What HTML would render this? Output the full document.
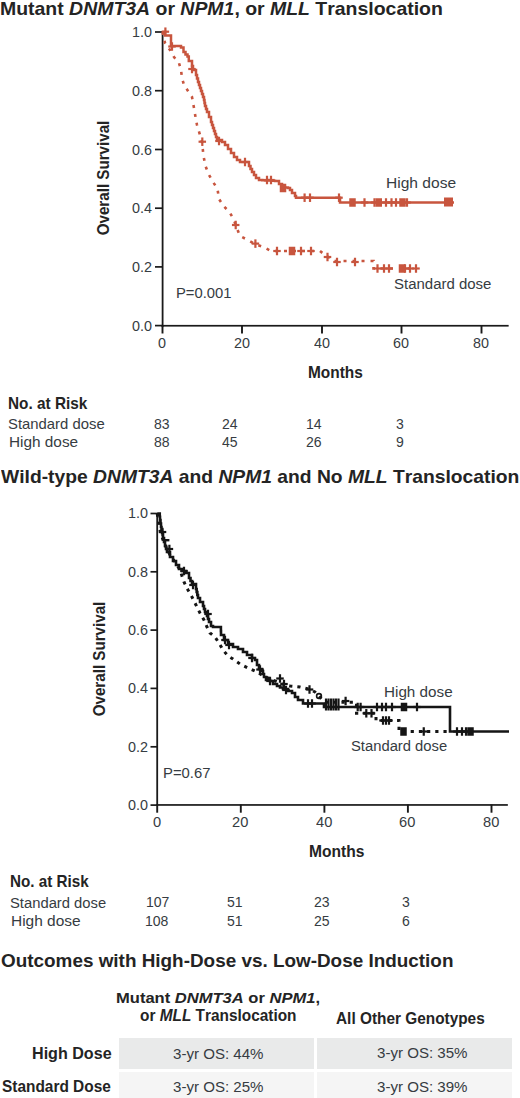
<!DOCTYPE html>
<html><head><meta charset="utf-8"><title>Figure</title>
<style>
html,body{margin:0;padding:0;background:#fff;}
body{width:520px;height:1098px;position:relative;overflow:hidden;font-family:"Liberation Sans",sans-serif;font-kerning:none;}
.t{position:absolute;white-space:nowrap;transform-origin:0 0;color:#363c42;}
.t i{font-style:italic;}
.r{transform-origin:50% 50%;font-weight:bold;color:#242424;}
.cell{position:absolute;}
svg{position:absolute;left:0;top:0;}
</style></head><body>
<div class="cell" style="left:118.8px;top:1037.7px;width:195px;height:31.5px;background:#e9eaea"></div>
<div class="cell" style="left:316.5px;top:1037.7px;width:195px;height:31.5px;background:#e9eaea"></div>
<div class="cell" style="left:118.8px;top:1072px;width:195px;height:26px;background:#f5f5f5"></div>
<div class="cell" style="left:316.5px;top:1072px;width:195px;height:26px;background:#f5f5f5"></div>
<svg width="520" height="1098" viewBox="0 0 520 1098" shape-rendering="geometricPrecision"><g fill="#1a1a1a"><rect x="161.70" y="31.50" width="1.8" height="295.60"/><rect x="161.70" y="324.90" width="346.95" height="1.7"/><rect x="155" y="31.15" width="7.60" height="1.7"/><rect x="155" y="89.85" width="7.60" height="1.7"/><rect x="155" y="148.65" width="7.60" height="1.7"/><rect x="155" y="207.35" width="7.60" height="1.7"/><rect x="155" y="266.05" width="7.60" height="1.7"/><rect x="155" y="324.75" width="7.60" height="1.7"/><rect x="161.55" y="325" width="1.9" height="8.5"/><rect x="241.05" y="325" width="1.9" height="8.5"/><rect x="321.05" y="325" width="1.9" height="8.5"/><rect x="400.55" y="325" width="1.9" height="8.5"/><rect x="480.55" y="325" width="1.9" height="8.5"/></g><g fill="#1a1a1a"><rect x="156.30" y="513" width="1.8" height="292.90"/><rect x="156.30" y="804.10" width="351.55" height="1.7"/><rect x="150.5" y="512.65" width="6.70" height="1.7"/><rect x="150.5" y="570.95" width="6.70" height="1.7"/><rect x="150.5" y="629.25" width="6.70" height="1.7"/><rect x="150.5" y="687.55" width="6.70" height="1.7"/><rect x="150.5" y="745.95" width="6.70" height="1.7"/><rect x="150.5" y="804.25" width="6.70" height="1.7"/><rect x="156.25" y="804.5" width="1.9" height="8.2"/><rect x="239.85" y="804.5" width="1.9" height="8.2"/><rect x="323.45" y="804.5" width="1.9" height="8.2"/><rect x="406.95" y="804.5" width="1.9" height="8.2"/><rect x="490.55" y="804.5" width="1.9" height="8.2"/></g><path d="M162.50,32.00 L165.00,32.00 L165.00,35.50 L171.00,35.50 L171.00,46.00 L179.00,46.00 L181.00,46.00 L181.00,47.50 L183.50,47.50 L183.50,52.00 L185.50,52.00 L185.50,54.50 L187.50,54.50 L187.50,56.50 L188.80,56.50 L188.80,61.00 L190.00,61.00 L192.00,61.00 L192.00,66.00 L193.00,66.00 L193.00,70.00 L196.00,70.00 L196.00,75.00 L197.00,75.00 L197.00,78.50 L198.00,78.50 L198.00,82.00 L199.00,82.00 L199.00,85.00 L200.00,85.00 L200.00,88.00 L201.00,88.00 L201.00,91.00 L202.00,91.00 L202.00,94.00 L203.00,94.00 L203.00,97.00 L204.00,97.00 L204.00,100.00 L204.50,100.00 L204.50,103.00 L205.00,103.00 L205.00,106.00 L206.00,106.00 L206.00,109.00 L207.00,109.00 L207.00,112.00 L209.00,112.00 L209.00,117.00 L211.00,117.00 L211.00,122.00 L212.00,122.00 L212.00,125.00 L213.00,125.00 L213.00,128.00 L214.00,128.00 L214.00,131.00 L215.00,131.00 L215.00,134.00 L216.00,134.00 L216.00,137.00 L217.00,137.00 L217.00,140.00 L222.00,140.00 L222.00,142.00 L225.00,142.00 L225.00,145.00 L228.00,145.00 L228.00,149.00 L231.00,149.00 L231.00,153.00 L234.00,153.00 L234.00,157.00 L237.00,157.00 L237.00,160.00 L240.00,160.00 L240.00,162.00 L247.00,162.00 L249.00,162.00 L249.00,166.00 L250.50,166.00 L250.50,169.00 L252.00,169.00 L252.00,172.00 L254.00,172.00 L254.00,175.00 L256.00,175.00 L256.00,178.00 L259.00,178.00 L259.00,180.00 L262.20,180.00 L262.20,180.20 L265.40,180.20 L265.40,180.40 L268.60,180.40 L268.60,180.60 L271.80,180.60 L271.80,180.80 L275.00,180.80 L275.00,181.00 L279.00,181.00 L279.00,184.00 L282.00,184.00 L282.00,187.00 L285.00,187.00 L285.00,187.50 L288.00,187.50 L288.00,188.00 L290.00,188.00 L290.00,190.00 L292.00,190.00 L292.00,193.00 L295.00,193.00 L295.00,196.00 L296.00,196.00 L296.00,197.70 L340.00,197.70 L340.00,202.50 L454.00,202.50" fill="none" stroke="#c8553e" stroke-width="2.5" stroke-linejoin="miter"/><path d="M162.50,32.00 L164.00,38.00 L165.00,43.00 L170.00,50.00 L174.00,57.00 L179.00,63.00 L181.00,70.00 L182.00,78.00 L184.00,85.00 L188.00,91.00 L192.00,97.00 L194.00,108.00 L195.50,117.00 L197.00,125.00 L200.00,135.00 L202.00,142.00 L203.50,156.00 L205.50,166.00 L208.50,174.00 L212.50,181.00 L217.50,189.00 L219.00,199.00 L223.50,206.00 L229.50,212.00 L234.00,220.00 L236.00,226.00 L240.00,236.00 L248.00,240.00 L255.00,244.00 L263.50,247.00 L271.00,251.00 L320.00,251.00 L325.00,255.00 L330.00,258.00 L333.00,261.00 L373.50,261.00 L373.50,268.50 L417.00,268.50" fill="none" stroke="#c8553e" stroke-width="2.6" stroke-dasharray="3 6"/><rect x="164.30" y="27.45" width="2.20" height="8.50" fill="#c8553e"/><rect x="161.65" y="30.60" width="7.50" height="2.20" fill="#c8553e"/><rect x="170.90" y="42.25" width="2.20" height="8.50" fill="#c8553e"/><rect x="168.25" y="45.40" width="7.50" height="2.20" fill="#c8553e"/><rect x="190.90" y="64.75" width="2.20" height="8.50" fill="#c8553e"/><rect x="188.25" y="67.90" width="7.50" height="2.20" fill="#c8553e"/><rect x="217.90" y="136.75" width="2.20" height="8.50" fill="#c8553e"/><rect x="215.25" y="139.90" width="7.50" height="2.20" fill="#c8553e"/><rect x="243.90" y="157.75" width="2.20" height="8.50" fill="#c8553e"/><rect x="241.25" y="160.90" width="7.50" height="2.20" fill="#c8553e"/><rect x="265.90" y="175.75" width="2.20" height="8.50" fill="#c8553e"/><rect x="263.25" y="178.90" width="7.50" height="2.20" fill="#c8553e"/><rect x="269.90" y="175.75" width="2.20" height="8.50" fill="#c8553e"/><rect x="267.25" y="178.90" width="7.50" height="2.20" fill="#c8553e"/><rect x="303.50" y="193.45" width="2.20" height="8.50" fill="#c8553e"/><rect x="300.85" y="196.60" width="7.50" height="2.20" fill="#c8553e"/><rect x="308.90" y="193.45" width="2.20" height="8.50" fill="#c8553e"/><rect x="306.25" y="196.60" width="7.50" height="2.20" fill="#c8553e"/><rect x="337.90" y="193.45" width="2.20" height="8.50" fill="#c8553e"/><rect x="335.25" y="196.60" width="7.50" height="2.20" fill="#c8553e"/><rect x="363.40" y="198.25" width="2.20" height="8.50" fill="#c8553e"/><rect x="360.75" y="201.40" width="7.50" height="2.20" fill="#c8553e"/><rect x="373.40" y="198.25" width="2.20" height="8.50" fill="#c8553e"/><rect x="370.75" y="201.40" width="7.50" height="2.20" fill="#c8553e"/><rect x="384.90" y="198.25" width="2.20" height="8.50" fill="#c8553e"/><rect x="382.25" y="201.40" width="7.50" height="2.20" fill="#c8553e"/><rect x="390.40" y="198.25" width="2.20" height="8.50" fill="#c8553e"/><rect x="387.75" y="201.40" width="7.50" height="2.20" fill="#c8553e"/><rect x="394.90" y="198.25" width="2.20" height="8.50" fill="#c8553e"/><rect x="392.25" y="201.40" width="7.50" height="2.20" fill="#c8553e"/><rect x="405.90" y="198.25" width="2.20" height="8.50" fill="#c8553e"/><rect x="403.25" y="201.40" width="7.50" height="2.20" fill="#c8553e"/><rect x="279.75" y="183.75" width="6.50" height="8.50" fill="#c8553e"/><rect x="349.25" y="198.25" width="6.50" height="8.50" fill="#c8553e"/><rect x="375.50" y="198.25" width="6.50" height="8.50" fill="#c8553e"/><rect x="399.25" y="198.25" width="6.50" height="8.50" fill="#c8553e"/><rect x="444.00" y="197.50" width="9.00" height="9.00" fill="#c8553e"/><rect x="201.20" y="137.45" width="2.20" height="8.50" fill="#c8553e"/><rect x="198.55" y="140.60" width="7.50" height="2.20" fill="#c8553e"/><rect x="234.60" y="220.75" width="2.20" height="8.50" fill="#c8553e"/><rect x="231.95" y="223.90" width="7.50" height="2.20" fill="#c8553e"/><rect x="254.30" y="239.35" width="2.20" height="8.50" fill="#c8553e"/><rect x="251.65" y="242.50" width="7.50" height="2.20" fill="#c8553e"/><rect x="275.90" y="246.75" width="2.20" height="8.50" fill="#c8553e"/><rect x="273.25" y="249.90" width="7.50" height="2.20" fill="#c8553e"/><rect x="299.90" y="246.75" width="2.20" height="8.50" fill="#c8553e"/><rect x="297.25" y="249.90" width="7.50" height="2.20" fill="#c8553e"/><rect x="309.90" y="246.75" width="2.20" height="8.50" fill="#c8553e"/><rect x="307.25" y="249.90" width="7.50" height="2.20" fill="#c8553e"/><rect x="326.40" y="252.75" width="2.20" height="8.50" fill="#c8553e"/><rect x="323.75" y="255.90" width="7.50" height="2.20" fill="#c8553e"/><rect x="335.90" y="257.75" width="2.20" height="8.50" fill="#c8553e"/><rect x="333.25" y="260.90" width="7.50" height="2.20" fill="#c8553e"/><rect x="353.90" y="257.75" width="2.20" height="8.50" fill="#c8553e"/><rect x="351.25" y="260.90" width="7.50" height="2.20" fill="#c8553e"/><rect x="376.40" y="264.25" width="2.20" height="8.50" fill="#c8553e"/><rect x="373.75" y="267.40" width="7.50" height="2.20" fill="#c8553e"/><rect x="382.90" y="264.25" width="2.20" height="8.50" fill="#c8553e"/><rect x="380.25" y="267.40" width="7.50" height="2.20" fill="#c8553e"/><rect x="387.90" y="264.25" width="2.20" height="8.50" fill="#c8553e"/><rect x="385.25" y="267.40" width="7.50" height="2.20" fill="#c8553e"/><rect x="403.90" y="264.25" width="2.20" height="8.50" fill="#c8553e"/><rect x="401.25" y="267.40" width="7.50" height="2.20" fill="#c8553e"/><rect x="408.90" y="264.25" width="2.20" height="8.50" fill="#c8553e"/><rect x="406.25" y="267.40" width="7.50" height="2.20" fill="#c8553e"/><rect x="414.90" y="264.25" width="2.20" height="8.50" fill="#c8553e"/><rect x="412.25" y="267.40" width="7.50" height="2.20" fill="#c8553e"/><rect x="288.75" y="246.75" width="6.50" height="8.50" fill="#c8553e"/><rect x="398.75" y="264.25" width="6.50" height="8.50" fill="#c8553e"/><path d="M157.20,513.50 L159.50,513.50 L159.75,513.50 L159.75,516.75 L160.00,516.75 L160.00,520.00 L160.50,520.00 L160.50,523.50 L161.00,523.50 L161.00,527.00 L161.50,527.00 L161.50,530.00 L162.00,530.00 L162.00,533.00 L163.00,533.00 L163.00,538.00 L164.00,538.00 L164.00,542.00 L165.00,542.00 L165.00,546.00 L166.00,546.00 L166.00,549.00 L167.00,549.00 L167.00,552.00 L170.00,552.00 L170.00,557.00 L173.00,557.00 L173.00,561.00 L176.00,561.00 L176.00,565.00 L179.00,565.00 L179.00,569.00 L182.00,569.00 L182.00,571.00 L186.00,571.00 L186.00,573.00 L189.00,573.00 L189.00,578.00 L190.50,578.00 L190.50,581.00 L192.00,581.00 L192.00,584.00 L196.00,584.00 L196.00,589.00 L196.67,589.00 L196.67,592.00 L197.33,592.00 L197.33,595.00 L198.00,595.00 L198.00,598.00 L200.00,598.00 L200.00,602.00 L203.00,602.00 L203.00,606.00 L204.00,606.00 L204.00,609.00 L205.00,609.00 L205.00,612.00 L207.00,612.00 L207.00,616.00 L208.00,616.00 L208.00,619.00 L209.00,619.00 L209.00,622.00 L211.00,622.00 L211.00,626.00 L213.00,626.00 L213.00,627.00 L220.80,627.00 L220.90,627.00 L220.90,631.00 L221.00,631.00 L221.00,635.00 L224.00,635.00 L224.00,640.00 L228.00,640.00 L228.00,644.00 L233.00,644.00 L233.00,647.00 L238.00,647.00 L238.00,649.00 L243.00,649.00 L243.00,652.00 L247.00,652.00 L247.00,655.00 L252.00,655.00 L252.00,658.00 L255.00,658.00 L255.00,660.00 L257.00,660.00 L257.00,665.00 L259.00,665.00 L259.00,669.00 L262.00,669.00 L262.00,671.00 L263.00,671.00 L263.00,674.00 L264.00,674.00 L264.00,677.00 L266.00,677.00 L266.00,680.00 L270.00,680.00 L270.00,681.00 L273.00,681.00 L273.00,684.00 L277.00,684.00 L277.00,686.00 L280.00,686.00 L280.00,687.50 L283.00,687.50 L283.00,689.00 L288.00,689.00 L288.00,691.00 L292.00,691.00 L292.00,693.00 L295.00,693.00 L295.00,697.00 L298.00,697.00 L298.00,700.00 L303.00,700.00 L303.00,703.50 L323.00,703.50 L324.00,703.50 L324.00,707.00 L450.00,707.00 L450.00,731.50 L509.00,731.50" fill="none" stroke="#151515" stroke-width="2.6"/><path d="M157.20,513.50 L160.00,530.00 L163.00,540.00 L167.00,549.00 L170.00,555.00 L175.00,562.00 L180.00,570.00 L184.00,582.00 L188.00,590.00 L192.00,597.00 L196.00,605.00 L200.00,613.00 L204.00,620.00 L207.00,627.00 L210.00,633.00 L215.00,637.00 L219.00,643.00 L223.00,650.00 L228.00,656.00 L233.00,659.00 L240.00,664.00 L248.00,668.00 L255.00,671.00 L262.00,675.00 L268.00,678.00 L275.00,681.00 L282.00,684.00 L290.00,686.00 L300.00,687.00 L309.00,689.00 L315.00,692.00 L319.00,696.00 L322.00,699.40 L326.00,702.30 L356.50,702.30 L356.50,713.30 L376.00,713.30 L376.00,720.50 L399.00,720.50 L399.00,731.50 L450.00,731.50" fill="none" stroke="#151515" stroke-width="3" stroke-dasharray="3.2 5"/><rect x="161.40" y="527.75" width="2.20" height="8.50" fill="#151515"/><rect x="158.75" y="530.90" width="7.50" height="2.20" fill="#151515"/><rect x="182.90" y="566.75" width="2.20" height="8.50" fill="#151515"/><rect x="180.25" y="569.90" width="7.50" height="2.20" fill="#151515"/><rect x="191.90" y="580.75" width="2.20" height="8.50" fill="#151515"/><rect x="189.25" y="583.90" width="7.50" height="2.20" fill="#151515"/><rect x="206.90" y="609.75" width="2.20" height="8.50" fill="#151515"/><rect x="204.25" y="612.90" width="7.50" height="2.20" fill="#151515"/><rect x="223.90" y="635.75" width="2.20" height="8.50" fill="#151515"/><rect x="221.25" y="638.90" width="7.50" height="2.20" fill="#151515"/><rect x="227.90" y="640.75" width="2.20" height="8.50" fill="#151515"/><rect x="225.25" y="643.90" width="7.50" height="2.20" fill="#151515"/><rect x="250.90" y="653.75" width="2.20" height="8.50" fill="#151515"/><rect x="248.25" y="656.90" width="7.50" height="2.20" fill="#151515"/><rect x="268.90" y="676.75" width="2.20" height="8.50" fill="#151515"/><rect x="266.25" y="679.90" width="7.50" height="2.20" fill="#151515"/><rect x="284.90" y="685.75" width="2.20" height="8.50" fill="#151515"/><rect x="282.25" y="688.90" width="7.50" height="2.20" fill="#151515"/><rect x="306.90" y="699.25" width="2.20" height="8.50" fill="#151515"/><rect x="304.25" y="702.40" width="7.50" height="2.20" fill="#151515"/><rect x="310.90" y="699.25" width="2.20" height="8.50" fill="#151515"/><rect x="308.25" y="702.40" width="7.50" height="2.20" fill="#151515"/><rect x="356.60" y="702.75" width="2.20" height="8.50" fill="#151515"/><rect x="353.95" y="705.90" width="7.50" height="2.20" fill="#151515"/><rect x="359.50" y="702.75" width="2.20" height="8.50" fill="#151515"/><rect x="356.85" y="705.90" width="7.50" height="2.20" fill="#151515"/><rect x="375.90" y="702.75" width="2.20" height="8.50" fill="#151515"/><rect x="373.25" y="705.90" width="7.50" height="2.20" fill="#151515"/><rect x="380.90" y="702.75" width="2.20" height="8.50" fill="#151515"/><rect x="378.25" y="705.90" width="7.50" height="2.20" fill="#151515"/><rect x="384.90" y="702.75" width="2.20" height="8.50" fill="#151515"/><rect x="382.25" y="705.90" width="7.50" height="2.20" fill="#151515"/><rect x="390.90" y="702.75" width="2.20" height="8.50" fill="#151515"/><rect x="388.25" y="705.90" width="7.50" height="2.20" fill="#151515"/><rect x="415.90" y="702.75" width="2.20" height="8.50" fill="#151515"/><rect x="413.25" y="705.90" width="7.50" height="2.20" fill="#151515"/><rect x="455.90" y="727.25" width="2.20" height="8.50" fill="#151515"/><rect x="453.25" y="730.40" width="7.50" height="2.20" fill="#151515"/><rect x="460.90" y="727.25" width="2.20" height="8.50" fill="#151515"/><rect x="458.25" y="730.40" width="7.50" height="2.20" fill="#151515"/><rect x="464.90" y="727.25" width="2.20" height="8.50" fill="#151515"/><rect x="462.25" y="730.40" width="7.50" height="2.20" fill="#151515"/><rect x="324.90" y="698.50" width="2.20" height="12.00" fill="#151515"/><rect x="327.40" y="698.50" width="2.20" height="12.00" fill="#151515"/><rect x="329.90" y="698.50" width="2.20" height="12.00" fill="#151515"/><rect x="332.40" y="698.50" width="2.20" height="12.00" fill="#151515"/><rect x="334.90" y="698.50" width="2.20" height="12.00" fill="#151515"/><rect x="337.40" y="698.50" width="2.20" height="12.00" fill="#151515"/><rect x="400.75" y="702.75" width="6.50" height="8.50" fill="#151515"/><rect x="467.25" y="727.25" width="6.50" height="8.50" fill="#151515"/><rect x="168.30" y="544.75" width="2.20" height="8.50" fill="#151515"/><rect x="165.65" y="547.90" width="7.50" height="2.20" fill="#151515"/><rect x="258.90" y="665.25" width="2.20" height="8.50" fill="#151515"/><rect x="256.25" y="668.40" width="7.50" height="2.20" fill="#151515"/><rect x="278.90" y="674.25" width="2.20" height="8.50" fill="#151515"/><rect x="276.25" y="677.40" width="7.50" height="2.20" fill="#151515"/><rect x="282.90" y="679.75" width="2.20" height="8.50" fill="#151515"/><rect x="280.25" y="682.90" width="7.50" height="2.20" fill="#151515"/><rect x="308.40" y="685.25" width="2.20" height="8.50" fill="#151515"/><rect x="305.75" y="688.40" width="7.50" height="2.20" fill="#151515"/><rect x="344.50" y="696.75" width="2.20" height="8.50" fill="#151515"/><rect x="341.85" y="699.90" width="7.50" height="2.20" fill="#151515"/><rect x="365.20" y="709.05" width="2.20" height="8.50" fill="#151515"/><rect x="362.55" y="712.20" width="7.50" height="2.20" fill="#151515"/><rect x="370.40" y="709.05" width="2.20" height="8.50" fill="#151515"/><rect x="367.75" y="712.20" width="7.50" height="2.20" fill="#151515"/><rect x="381.90" y="716.25" width="2.20" height="8.50" fill="#151515"/><rect x="379.25" y="719.40" width="7.50" height="2.20" fill="#151515"/><rect x="384.90" y="716.25" width="2.20" height="8.50" fill="#151515"/><rect x="382.25" y="719.40" width="7.50" height="2.20" fill="#151515"/><rect x="387.90" y="716.25" width="2.20" height="8.50" fill="#151515"/><rect x="385.25" y="719.40" width="7.50" height="2.20" fill="#151515"/><rect x="422.65" y="727.25" width="2.20" height="8.50" fill="#151515"/><rect x="420.00" y="730.40" width="7.50" height="2.20" fill="#151515"/><rect x="164.8" y="539" width="4.6" height="2.4" fill="#151515"/><circle cx="319" cy="696" r="2.4" fill="none" stroke="#151515" stroke-width="1.6"/><rect x="400.25" y="727.25" width="6.50" height="8.50" fill="#151515"/></svg>
<div class="t" id="t1" style="left:0.33px;top:0.81px;font-size:17.88px;line-height:17.88px;transform:scaleX(1.0884);font-weight:bold;color:#242424;">Mutant <i>DNMT3A</i> or <i>NPM1</i>, or <i>MLL</i> Translocation</div>
<div class="t" id="ya0" style="left:132.40px;top:24.01px;font-size:15.12px;line-height:15.12px;transform:scaleX(0.9500);">1.0</div>
<div class="t" id="ya1" style="left:132.20px;top:82.71px;font-size:15.12px;line-height:15.12px;transform:scaleX(0.9500);">0.8</div>
<div class="t" id="ya2" style="left:132.20px;top:141.51px;font-size:15.12px;line-height:15.12px;transform:scaleX(0.9500);">0.6</div>
<div class="t" id="ya3" style="left:132.20px;top:200.21px;font-size:15.12px;line-height:15.12px;transform:scaleX(0.9500);">0.4</div>
<div class="t" id="ya4" style="left:132.20px;top:258.91px;font-size:15.12px;line-height:15.12px;transform:scaleX(0.9500);">0.2</div>
<div class="t" id="ya5" style="left:132.20px;top:317.61px;font-size:15.12px;line-height:15.12px;transform:scaleX(0.9500);">0.0</div>
<div class="t" id="xa0" style="left:158.00px;top:335.41px;font-size:15.12px;line-height:15.12px;transform:scaleX(0.9500);">0</div>
<div class="t" id="xa1" style="left:233.50px;top:335.40px;font-size:15.12px;line-height:15.12px;transform:scaleX(0.9500);">20</div>
<div class="t" id="xa2" style="left:313.50px;top:335.41px;font-size:15.12px;line-height:15.12px;transform:scaleX(0.9500);">40</div>
<div class="t" id="xa3" style="left:393.00px;top:335.41px;font-size:15.12px;line-height:15.12px;transform:scaleX(0.9500);">60</div>
<div class="t" id="xa4" style="left:473.00px;top:335.41px;font-size:15.12px;line-height:15.12px;transform:scaleX(0.9500);">80</div>
<div class="t" id="mo1" style="left:308.25px;top:364.81px;font-size:16.72px;line-height:16.72px;transform:scaleX(0.9226);font-weight:bold;color:#242424;">Months</div>
<div class="t" id="hd1" style="left:385.56px;top:175.01px;font-size:15.12px;line-height:15.12px;transform:scaleX(1.0305);">High dose</div>
<div class="t" id="sd1" style="left:394.03px;top:276.30px;font-size:15.26px;line-height:15.26px;transform:scaleX(0.9823);">Standard dose</div>
<div class="t" id="p1" style="left:175.95px;top:286.21px;font-size:14.24px;line-height:14.24px;transform:scaleX(1.0386);">P=0.001</div>
<div class="t" id="nr1" style="left:8.28px;top:394.61px;font-size:17.01px;line-height:17.01px;transform:scaleX(0.9025);font-weight:bold;color:#242424;">No. at Risk</div>
<div class="t" id="rs1" style="left:8.02px;top:415.71px;font-size:15.41px;line-height:15.41px;transform:scaleX(0.9646);">Standard dose</div>
<div class="t" id="rh1" style="left:8.97px;top:433.81px;font-size:15.12px;line-height:15.12px;transform:scaleX(1.0154);">High dose</div>
<div class="t" id="n1a0" style="left:154.10px;top:415.80px;font-size:15.26px;line-height:15.26px;transform:scaleX(0.9200);">83</div>
<div class="t" id="n1b0" style="left:153.80px;top:433.80px;font-size:15.26px;line-height:15.26px;transform:scaleX(0.9200);">88</div>
<div class="t" id="n1a1" style="left:221.50px;top:415.80px;font-size:15.26px;line-height:15.26px;transform:scaleX(0.9200);">24</div>
<div class="t" id="n1b1" style="left:222.00px;top:433.80px;font-size:15.26px;line-height:15.26px;transform:scaleX(0.9200);">45</div>
<div class="t" id="n1a2" style="left:306.00px;top:415.80px;font-size:15.26px;line-height:15.26px;transform:scaleX(0.9200);">14</div>
<div class="t" id="n1b2" style="left:306.00px;top:433.80px;font-size:15.26px;line-height:15.26px;transform:scaleX(0.9200);">26</div>
<div class="t" id="n1a3" style="left:395.50px;top:415.80px;font-size:15.26px;line-height:15.26px;transform:scaleX(0.9200);">3</div>
<div class="t" id="n1b3" style="left:395.50px;top:433.80px;font-size:15.26px;line-height:15.26px;transform:scaleX(0.9200);">9</div>
<div class="t" id="t2" style="left:0.77px;top:468.01px;font-size:18.17px;line-height:18.17px;transform:scaleX(1.0615);font-weight:bold;color:#242424;">Wild-type <i>DNMT3A</i> and <i>NPM1</i> and No <i>MLL</i> Translocation</div>
<div class="t" id="yb0" style="left:127.80px;top:505.31px;font-size:15.12px;line-height:15.12px;transform:scaleX(0.9500);">1.0</div>
<div class="t" id="yb1" style="left:127.80px;top:563.61px;font-size:15.12px;line-height:15.12px;transform:scaleX(0.9500);">0.8</div>
<div class="t" id="yb2" style="left:127.80px;top:621.91px;font-size:15.12px;line-height:15.12px;transform:scaleX(0.9500);">0.6</div>
<div class="t" id="yb3" style="left:127.80px;top:680.21px;font-size:15.12px;line-height:15.12px;transform:scaleX(0.9500);">0.4</div>
<div class="t" id="yb4" style="left:127.80px;top:738.61px;font-size:15.12px;line-height:15.12px;transform:scaleX(0.9500);">0.2</div>
<div class="t" id="yb5" style="left:127.80px;top:796.91px;font-size:15.12px;line-height:15.12px;transform:scaleX(0.9500);">0.0</div>
<div class="t" id="xb0" style="left:153.20px;top:814.41px;font-size:15.41px;line-height:15.41px;transform:scaleX(0.9500);">0</div>
<div class="t" id="xb1" style="left:232.30px;top:814.41px;font-size:15.41px;line-height:15.41px;transform:scaleX(0.9500);">20</div>
<div class="t" id="xb2" style="left:316.40px;top:814.41px;font-size:15.41px;line-height:15.41px;transform:scaleX(0.9500);">40</div>
<div class="t" id="xb3" style="left:398.90px;top:814.41px;font-size:15.41px;line-height:15.41px;transform:scaleX(0.9500);">60</div>
<div class="t" id="xb4" style="left:483.00px;top:814.41px;font-size:15.41px;line-height:15.41px;transform:scaleX(0.9500);">80</div>
<div class="t" id="mo2" style="left:308.61px;top:844.30px;font-size:16.86px;line-height:16.86px;transform:scaleX(0.9240);font-weight:bold;color:#242424;">Months</div>
<div class="t" id="hd2" style="left:383.96px;top:685.00px;font-size:14.68px;line-height:14.68px;transform:scaleX(1.0385);">High dose</div>
<div class="t" id="sd2" style="left:350.62px;top:737.91px;font-size:15.26px;line-height:15.26px;transform:scaleX(0.9694);">Standard dose</div>
<div class="t" id="p2" style="left:163.19px;top:765.71px;font-size:14.53px;line-height:14.53px;transform:scaleX(1.0225);">P=0.67</div>
<div class="t" id="nr2" style="left:9.81px;top:873.31px;font-size:17.01px;line-height:17.01px;transform:scaleX(0.8968);font-weight:bold;color:#242424;">No. at Risk</div>
<div class="t" id="rs2" style="left:9.77px;top:895.01px;font-size:15.26px;line-height:15.26px;transform:scaleX(0.9694);">Standard dose</div>
<div class="t" id="rh2" style="left:10.70px;top:913.60px;font-size:14.68px;line-height:14.68px;transform:scaleX(1.0540);">High dose</div>
<div class="t" id="n2a0" style="left:145.90px;top:894.30px;font-size:15.26px;line-height:15.26px;transform:scaleX(0.9200);">107</div>
<div class="t" id="n2b0" style="left:145.20px;top:913.01px;font-size:15.26px;line-height:15.26px;transform:scaleX(0.9200);">108</div>
<div class="t" id="n2a1" style="left:227.00px;top:894.30px;font-size:15.26px;line-height:15.26px;transform:scaleX(0.9200);">51</div>
<div class="t" id="n2b1" style="left:227.00px;top:913.01px;font-size:15.26px;line-height:15.26px;transform:scaleX(0.9200);">51</div>
<div class="t" id="n2a2" style="left:313.50px;top:894.30px;font-size:15.26px;line-height:15.26px;transform:scaleX(0.9200);">23</div>
<div class="t" id="n2b2" style="left:313.50px;top:913.01px;font-size:15.26px;line-height:15.26px;transform:scaleX(0.9200);">25</div>
<div class="t" id="n2a3" style="left:402.00px;top:894.30px;font-size:15.26px;line-height:15.26px;transform:scaleX(0.9200);">3</div>
<div class="t" id="n2b3" style="left:402.00px;top:913.01px;font-size:15.26px;line-height:15.26px;transform:scaleX(0.9200);">6</div>
<div class="t" id="t3" style="left:0.51px;top:951.00px;font-size:19.19px;line-height:19.19px;transform:scaleX(0.9847);font-weight:bold;color:#242424;">Outcomes with High-Dose vs. Low-Dose Induction</div>
<div class="t" id="h1a" style="left:116.33px;top:991.01px;font-size:14.83px;line-height:14.83px;transform:scaleX(1.1154);font-weight:bold;color:#242424;">Mutant <i>DNMT3A</i> or <i>NPM1</i>,</div>
<div class="t" id="h1b" style="left:139.61px;top:1008.21px;font-size:15.70px;line-height:15.70px;transform:scaleX(0.9810);font-weight:bold;color:#242424;">or <i>MLL</i> Translocation</div>
<div class="t" id="h2" style="left:336.02px;top:1009.71px;font-size:16.28px;line-height:16.28px;transform:scaleX(0.9456);font-weight:bold;color:#242424;">All Other Genotypes</div>
<div class="t" id="rhd" style="left:31.77px;top:1045.91px;font-size:15.70px;line-height:15.70px;transform:scaleX(1.0262);font-weight:bold;color:#242424;">High Dose</div>
<div class="t" id="rsd" style="left:1.61px;top:1079.00px;font-size:15.99px;line-height:15.99px;transform:scaleX(0.9644);font-weight:bold;color:#242424;">Standard Dose</div>
<div class="t" id="c11" style="left:172.79px;top:1046.51px;font-size:14.83px;line-height:14.83px;transform:scaleX(1.0172);">3-yr OS: 44%</div>
<div class="t" id="c21" style="left:172.79px;top:1080.40px;font-size:14.83px;line-height:14.83px;transform:scaleX(1.0172);">3-yr OS: 25%</div>
<div class="t" id="c12" style="left:377.38px;top:1045.60px;font-size:14.83px;line-height:14.83px;transform:scaleX(1.0172);">3-yr OS: 35%</div>
<div class="t" id="c22" style="left:377.38px;top:1080.21px;font-size:14.83px;line-height:14.83px;transform:scaleX(1.0172);">3-yr OS: 39%</div>
<div class="t r" id="os1" style="left:104.45px;top:178.10px;font-size:16.70px;line-height:16.70px;transform:translate(-50%,-50%) rotate(-90deg) scaleX(0.9070);">Overall Survival</div>
<div class="t r" id="os2" style="left:100.20px;top:658.70px;font-size:15.60px;line-height:15.60px;transform:translate(-50%,-50%) rotate(-90deg) scaleX(0.9720);">Overall Survival</div>
</body></html>
